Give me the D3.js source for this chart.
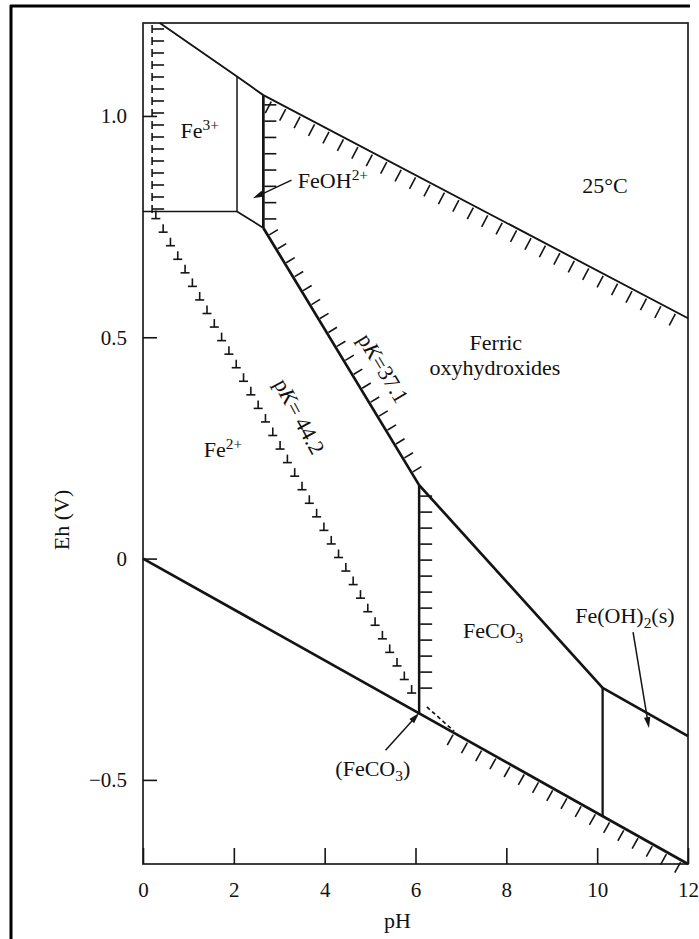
<!DOCTYPE html>
<html><head><meta charset="utf-8">
<script src="https://cdn.jsdelivr.net/npm/d3@7"></script>
<style>
body{margin:0;background:#fff}
svg{display:block}
text{font-family:"Liberation Serif","Times New Roman",serif;fill:#111}
</style>
</head><body>
<svg id="chart" width="699" height="939"></svg>
<script>
// ---------- data (pH, Eh in V) ----------
const phTicks = [0, 2, 4, 6, 8, 10, 12];
const ehTicks = [-0.5, 0, 0.5, 1.0];
const ehTickLabels = ["\u22120.5", "0", "0.5", "1.0"];

const upperWaterLine   = [[0.37, 1.21], [2.07, 1.089], [2.65, 1.047], [12, 0.543]];
const lowerWaterLine   = [[0, 0], [12, -0.69]];
const fe3LeftBoundary  = [[0.2, 1.21], [0.2, 0.785]];
const fe3Fe2Line       = [[0, 0.784], [2.07, 0.784]];
const fe3FeOHLine      = [[2.07, 0.784], [2.07, 1.089]];
const fe2FeOHLine      = [[2.07, 0.784], [2.65, 0.747]];
const feOHFerricLine   = [[2.65, 0.747], [2.65, 1.047]];
const pK371Line        = [[2.65, 0.747], [6.08, 0.166], [10.12, -0.292], [12, -0.401]];
const feco3Vertical    = [[6.08, 0.166], [6.08, -0.350]];
const feoh2Vertical    = [[10.12, -0.292], [10.12, -0.582]];
const pK442Line        = [[0.22, 0.78], [6.0, -0.32]];
const feco3Metastable  = [[6.25, -0.335], [6.85, -0.39]];

// annotation positions (pH, Eh)
const labels = [
  {parts: [["Fe",""],["3+","sup"]], at: [1.25, 0.95], anchor: "middle"},
  {parts: [["FeOH",""],["2+","sup"]], at: [3.41, 0.837], anchor: "start"},
  {parts: [["25°C",""]], at: [10.17, 0.826], anchor: "middle"},
  {parts: [["Ferric",""]], at: [7.77, 0.471], anchor: "middle"},
  {parts: [["oxyhydroxides",""]], at: [7.75, 0.415], anchor: "middle"},
  {parts: [["Fe",""],["2+","sup"]], at: [1.76, 0.229], anchor: "middle"},
  {parts: [["FeCO",""],["3","sub"]], at: [7.71, -0.179], anchor: "middle"},
  {parts: [["Fe(OH)",""],["2","sub"],["(s)",""]], at: [10.61, -0.145], anchor: "middle"},
  {parts: [["(FeCO",""],["3","sub"],[")",""]], at: [5.06, -0.491], anchor: "middle"}
];
const arrows = [
  {from: [3.27, 0.855], to: [2.42, 0.814]},
  {from: [5.34, -0.433], to: [6.08, -0.349]},
  {from: [10.79, -0.166], to: [11.14, -0.383]}
];

// ---------- scales ----------
const svg = d3.select("#chart");
const x = d3.scaleLinear().domain([0, 12]).range([143, 688]);
const y = d3.scaleLinear().domain([-0.69, 1.21]).range([864, 23]);
const INK = "#141414";
const FS = 22;

// outer frame (top + left edges visible)
svg.append("line").attr("x1", 10).attr("y1", 6).attr("x2", 690).attr("y2", 6)
  .attr("stroke", "#000").attr("stroke-width", 3);
svg.append("line").attr("x1", 11).attr("y1", 5).attr("x2", 11).attr("y2", 939)
  .attr("stroke", "#000").attr("stroke-width", 3);

// plot frame
svg.append("rect").attr("x", x(0)).attr("y", y(1.21))
  .attr("width", x(12) - x(0)).attr("height", y(-0.69) - y(1.21))
  .attr("fill", "none").attr("stroke", "#2a2a2a").attr("stroke-width", 1.8);

// axes
const xAxis = d3.axisBottom(x).tickValues(phTicks).tickSize(-16).tickPadding(18)
  .tickFormat(d3.format("d"));
const gx = svg.append("g").attr("transform", `translate(0,${y(-0.69)})`).call(xAxis);
gx.select(".domain").remove();
gx.selectAll("line").attr("stroke", INK).attr("stroke-width", 1.6);
gx.selectAll("text").attr("font-size", 21).attr("font-family", "Liberation Serif").attr("fill", "#111");

const yAxis = d3.axisLeft(y).tickValues(ehTicks).tickSize(-14).tickPadding(16)
  .tickFormat((d, i) => ehTickLabels[i]);
const gy = svg.append("g").attr("transform", `translate(${x(0)},0)`).call(yAxis);
gy.select(".domain").remove();
gy.selectAll("line").attr("stroke", INK).attr("stroke-width", 1.6);
gy.selectAll("text").attr("font-size", 21).attr("font-family", "Liberation Serif").attr("fill", "#111");

svg.append("text").attr("x", (x(0) + x(12)) / 2 - 18).attr("y", 928)
  .attr("text-anchor", "middle").attr("font-size", FS).text("pH");
svg.append("text").attr("transform", "translate(69,520) rotate(-90)")
  .attr("text-anchor", "middle").attr("font-size", FS).text("Eh (V)");

// ---------- lines ----------
const line = d3.line().x(d => x(d[0])).y(d => y(d[1]));
function draw(pts, w, dash) {
  const p = svg.append("path").attr("d", line(pts)).attr("fill", "none")
    .attr("stroke", INK).attr("stroke-width", w).attr("stroke-linejoin", "round");
  if (dash) p.attr("stroke-dasharray", dash);
  return p;
}
draw(upperWaterLine, 1.9);
draw(lowerWaterLine, 2.7);
draw(fe3Fe2Line, 1.5);
draw(fe3FeOHLine, 1.5);
draw(fe2FeOHLine, 1.7);
draw(feOHFerricLine, 2.7);
draw(pK371Line, 2.7);
draw(feco3Vertical, 2.5);
draw(feoh2Vertical, 2.3);
draw(feco3Metastable, 1.7, "4,3");

// ---------- hatching ----------
function walk(pts, spacing, inset0, inset1, cb) {
  const s = pts.map(p => [x(p[0]), y(p[1])]);
  const segs = [];
  let total = 0;
  for (let i = 0; i < s.length - 1; i++) {
    const dx = s[i + 1][0] - s[i][0], dy = s[i + 1][1] - s[i][1];
    const L = Math.hypot(dx, dy);
    segs.push({a: s[i], dx: dx / L, dy: dy / L, start: total, L});
    total += L;
  }
  for (let d = inset0; d <= total - inset1 + 0.01; d += spacing) {
    const sg = segs.find(q => d >= q.start && d <= q.start + q.L + 1e-6) || segs[segs.length - 1];
    const t = d - sg.start;
    cb(sg.a[0] + sg.dx * t, sg.a[1] + sg.dy * t, sg.dx, sg.dy);
  }
}
const hg = svg.append("g").attr("stroke", INK).attr("stroke-width", 1.6).attr("fill", "none");
function ticks(pts, side, spacing, len, gap, inset0, inset1) {
  walk(pts, spacing, inset0, inset1, (px, py, dx, dy) => {
    const nx = -dy * side, ny = dx * side;
    hg.append("line")
      .attr("x1", px + nx * gap).attr("y1", py + ny * gap)
      .attr("x2", px + nx * (gap + len)).attr("y2", py + ny * (gap + len));
  });
}
function ehAt(pts, ph) {
  const f = d3.scaleLinear().domain(pts.map(p => p[0])).range(pts.map(p => p[1]));
  return f(ph);
}
ticks(upperWaterLine.slice(2), 1, 16.3, 13, 2, 10, 6);
ticks(pK371Line.slice(0, 2), -1, 16.3, 10, 1.5, 9, 8);
ticks(feOHFerricLine, 1, 16.3, 12, 1, 9, 6);
ticks(feco3Vertical, -1, 16, 12, 1, 11, 10);
ticks([[6.85, ehAt(lowerWaterLine, 6.85)], [12, -0.69]], 1, 16.3, 12, 2, 0, 4);

// metastable boundaries: "⊥" and "⊢" marks
walk(pK442Line, 15.4, 6, 4, (px, py) => {
  hg.append("line").attr("x1", px - 4.5).attr("y1", py).attr("x2", px + 4.5).attr("y2", py);
  hg.append("line").attr("x1", px).attr("y1", py).attr("x2", px).attr("y2", py - 8);
});
walk(fe3LeftBoundary, 12, 6, 2, (px, py) => {
  hg.append("line").attr("x1", px).attr("y1", py - 4).attr("x2", px).attr("y2", py + 4);
  hg.append("line").attr("x1", px).attr("y1", py).attr("x2", px + 12).attr("y2", py);
});

// ---------- labels ----------
function addText(parts, px, py, anchor, size, rot) {
  const t = svg.append("text").attr("x", px).attr("y", py)
    .attr("text-anchor", anchor).attr("font-size", size);
  if (rot) t.attr("transform", `rotate(${rot},${px},${py})`);
  let cur = 0;
  parts.forEach(([str, k]) => {
    const ts = t.append("tspan").text(str);
    let target = 0;
    if (k === "sup") { target = -size * 0.38; ts.attr("font-size", size * 0.7); }
    if (k === "sub") { target = size * 0.22; ts.attr("font-size", size * 0.7); }
    if (k === "i") ts.attr("font-style", "italic");
    if (target !== cur) ts.attr("dy", target - cur);
    cur = target;
  });
  return t;
}
labels.forEach(l => addText(l.parts, x(l.at[0]), y(l.at[1]), l.anchor, FS));

function angleOf(pts) {
  return Math.atan2(y(pts[1][1]) - y(pts[0][1]), x(pts[1][0]) - x(pts[0][0])) * 180 / Math.PI;
}
// rotated pK labels
const pk37Pos = [5.15, 0.437], pk44Pos = [3.30, 0.329];
addText([["p",""],["K","i"],["=37.1",""]], x(pk37Pos[0]), y(pk37Pos[1]) + 7, "middle", FS, angleOf(pK371Line));
addText([["p",""],["K","i"],["= 44.2",""]], x(pk44Pos[0]), y(pk44Pos[1]) + 7, "middle", FS, angleOf(pK442Line));

// ---------- arrows ----------
arrows.forEach(a => {
  const x1 = x(a.from[0]), y1 = y(a.from[1]), x2 = x(a.to[0]), y2 = y(a.to[1]);
  const L = Math.hypot(x2 - x1, y2 - y1), ux = (x2 - x1) / L, uy = (y2 - y1) / L;
  svg.append("line").attr("x1", x1).attr("y1", y1).attr("x2", x2 - ux * 4).attr("y2", y2 - uy * 4)
    .attr("stroke", INK).attr("stroke-width", 1.5);
  const hl = 11, hw = 3.2;
  const bx = x2 - ux * hl, by = y2 - uy * hl;
  svg.append("path")
    .attr("d", `M${x2},${y2}L${bx - uy * hw},${by + ux * hw}L${bx + uy * hw},${by - ux * hw}Z`)
    .attr("fill", INK);
});
</script>
</body></html>
